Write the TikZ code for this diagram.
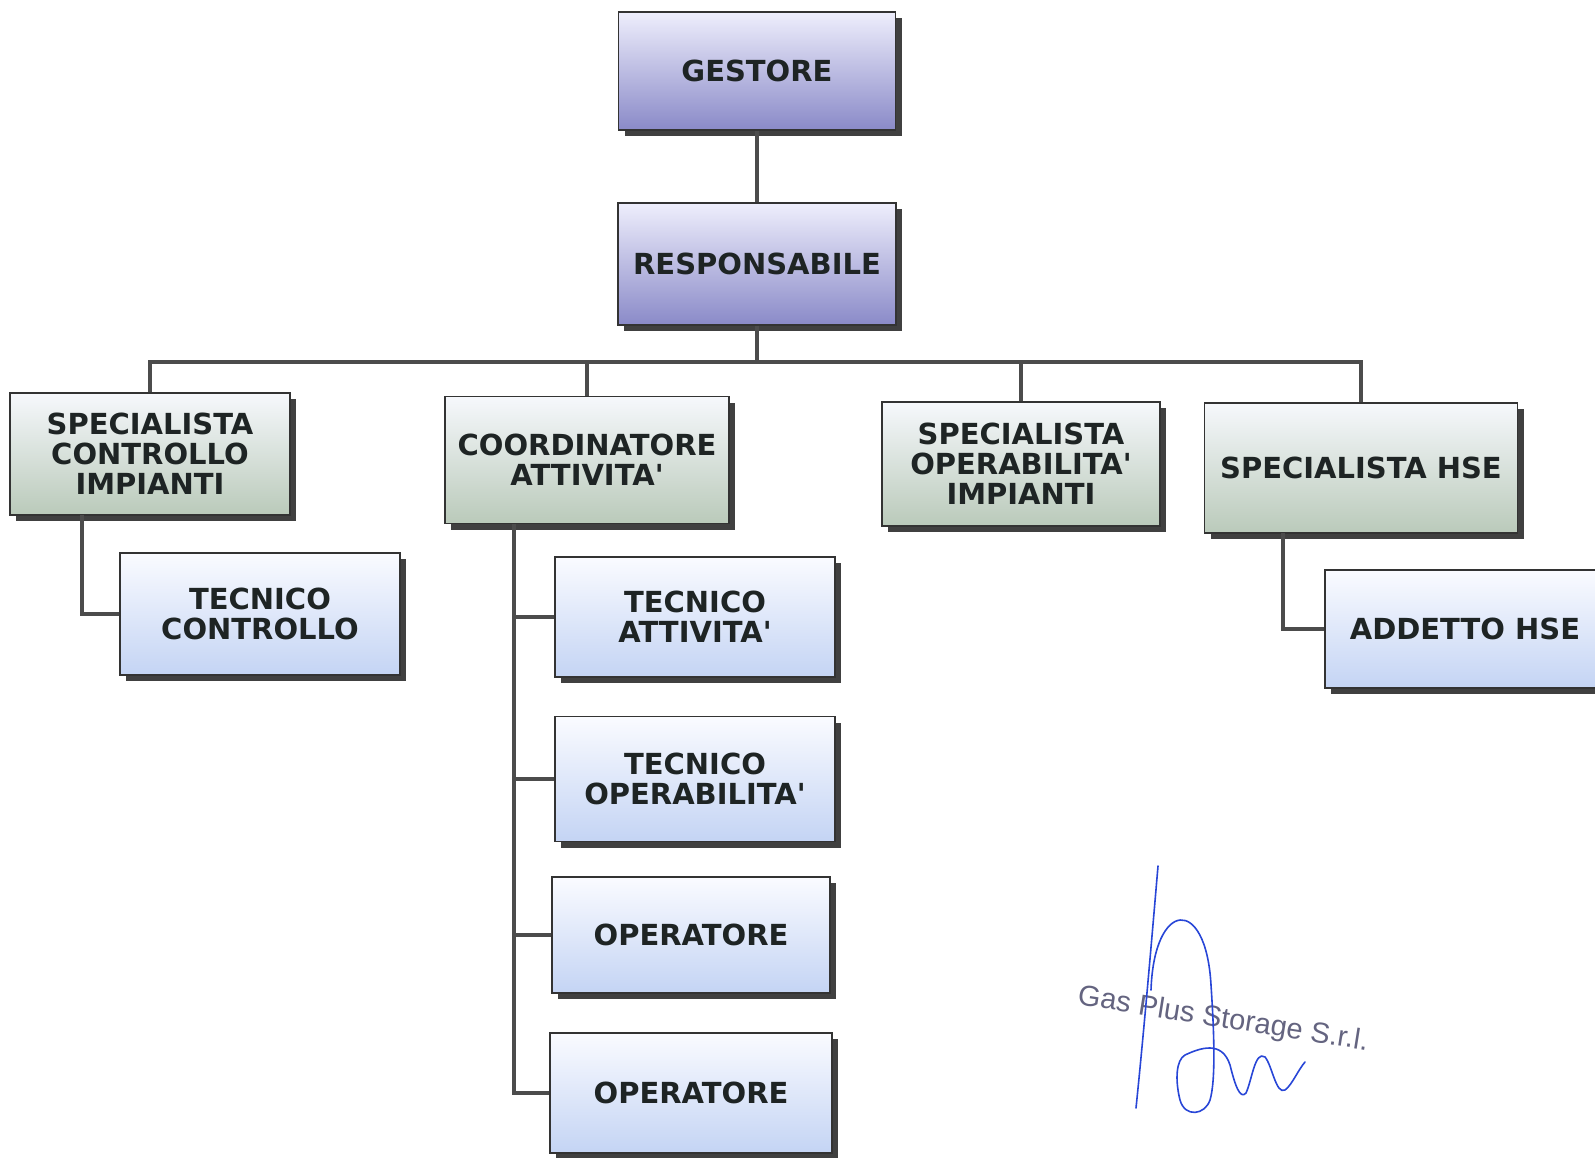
\documentclass[tikz,border=0pt]{standalone}
\usepackage{fontspec}
\setmainfont{DejaVu Sans}
\newfontfamily\stampfont{Liberation Sans}
\usetikzlibrary{shadows}
\definecolor{lilacTop}{RGB}{238,238,252}
\definecolor{lilacBot}{RGB}{138,138,200}
\definecolor{sageTop}{RGB}{246,248,252}
\definecolor{sageBot}{RGB}{186,202,186}
\definecolor{skyTop}{RGB}{250,251,255}
\definecolor{skyBot}{RGB}{196,212,244}
\definecolor{roleText}{RGB}{30,36,36}
\definecolor{stampGray}{RGB}{100,100,128}
\definecolor{inkBlue}{RGB}{40,70,215}
\newcommand{\apos}{\textquotesingle}
\begin{document}
\begin{tikzpicture}[x=1pt,y=-1pt,
  role/.style={draw=black!80, line width=1.2pt, align=center, inner sep=2pt,
    text=roleText, font=\fontsize{29}{30}\selectfont\bfseries,
    drop shadow={shadow xshift=6pt,shadow yshift=-6pt,fill=black!75,opacity=1}},
  head/.style={role, top color=lilacTop, bottom color=lilacBot},
  staff/.style={role, top color=sageTop, bottom color=sageBot},
  crew/.style={role, top color=skyTop, bottom color=skyBot},
  link/.style={line width=3.5pt, draw=black!70},
  ink/.style={draw=inkBlue, line width=1.6pt, line cap=round, line join=round}]
\path[use as bounding box, fill=white] (0,0) rectangle (1595,1158);

% top of the chart
\node[head, minimum width=277pt, minimum height=118pt] (gestore) at (757,71) {GESTORE};
\node[head, minimum width=278pt, minimum height=122pt] (resp) at (757,264) {RESPONSABILE};

% second level
\node[staff, minimum width=280pt, minimum height=122pt] (sci) at (150,454) {SPECIALISTA\\CONTROLLO\\IMPIANTI};
\node[staff, minimum width=284pt, minimum height=127pt] (coord) at (587,460) {COORDINATORE\\ATTIVITA\apos};
\node[staff, minimum width=278pt, minimum height=124pt] (soi) at (1021,464) {SPECIALISTA\\OPERABILITA\apos\\IMPIANTI};
\node[staff, minimum width=313pt, minimum height=130pt] (shse) at (1361,468) {SPECIALISTA HSE};

% third level
\node[crew, minimum width=280pt, minimum height=122pt] (tc) at (260,614) {TECNICO\\CONTROLLO};
\node[crew, minimum width=280pt, minimum height=120pt] (ta) at (695,617) {TECNICO\\ATTIVITA\apos};
\node[crew, minimum width=280pt, minimum height=125pt] (to) at (695,779) {TECNICO\\OPERABILITA\apos};
\node[crew, minimum width=278pt, minimum height=116pt] (op1) at (691,935) {OPERATORE};
\node[crew, minimum width=282pt, minimum height=120pt] (op2) at (691,1093) {OPERATORE};
\node[crew, minimum width=280pt, minimum height=118pt] (addetto) at (1465,629) {ADDETTO HSE};

% connectors
\coordinate (bus) at (757,362);
\coordinate (sciDrop) at (82,515);
\coordinate (coordDrop) at (514,524);
\coordinate (hseDrop) at (1283,533);
\draw[link] (gestore.south) -- (resp.north);
\draw[link] (resp.south) -- (bus);
\draw[link] (sci.north) |- (bus) -| (shse.north);
\draw[link] (coord.north) -- (coord.north |- bus);
\draw[link] (soi.north) -- (soi.north |- bus);
\draw[link] (sciDrop) |- (tc.west);
\draw[link] (coordDrop) |- (op2.west);
\foreach \n in {ta,to,op1}
  \draw[link] (coordDrop |- \n.west) -- (\n.west);
\draw[link] (hseDrop) |- (addetto.west);

% stamp and signature
\node[rotate=-9, text=stampGray, font=\stampfont\fontsize{29}{29}\selectfont] (stamp) at (1223,1020) {Gas Plus Storage S.r.l.};
\draw[ink] (1158,866) .. controls (1150,960) and (1143,1040) .. (1136,1108);
\draw[ink] (1151,990) .. controls (1154,900) and (1206,895) .. (1211,985)
  .. controls (1214,1030) and (1216,1080) .. (1210,1100)
  .. controls (1205,1115) and (1185,1118) .. (1180,1100)
  .. controls (1175,1080) and (1176,1060) .. (1185,1055)
  .. controls (1200,1048) and (1222,1040) .. (1230,1065)
  .. controls (1235,1085) and (1240,1100) .. (1246,1093)
  .. controls (1252,1080) and (1255,1050) .. (1265,1057)
  .. controls (1272,1065) and (1276,1095) .. (1285,1090)
  .. controls (1292,1085) and (1298,1070) .. (1305,1062);
\end{tikzpicture}
\end{document}
